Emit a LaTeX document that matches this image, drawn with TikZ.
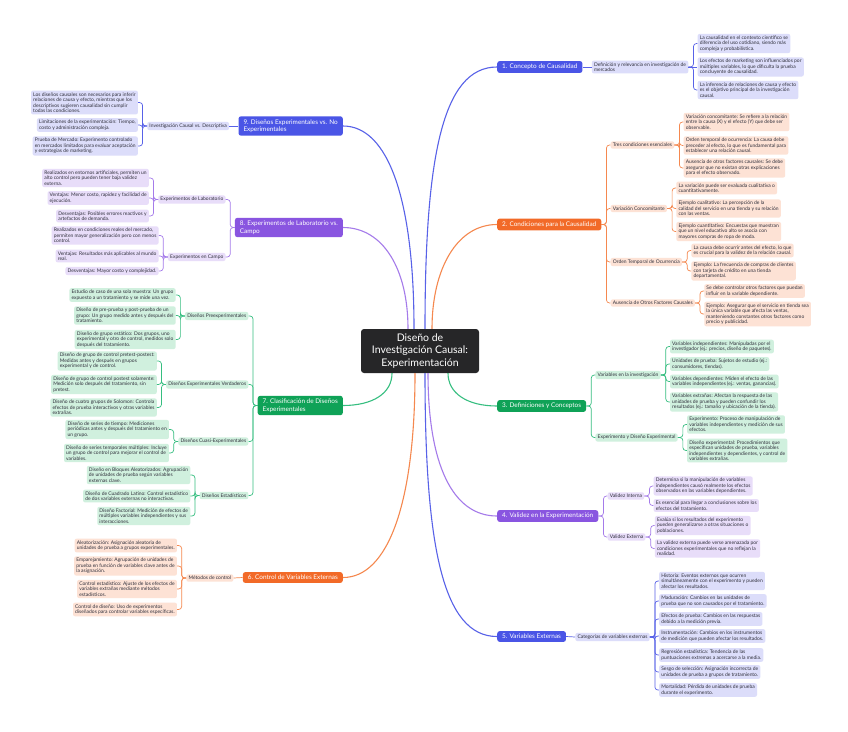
\documentclass[tikz,border=0pt]{standalone}
\usepackage{fontspec}
\setmainfont{Lato}
\definecolor{cblue}{HTML}{4A55E6}
\definecolor{lblue}{HTML}{DCDDFA}
\definecolor{lnblue}{HTML}{5862E8}
\definecolor{corange}{HTML}{F26A28}
\definecolor{lorange}{HTML}{FDE2D5}
\definecolor{lnorange}{HTML}{F5884F}
\definecolor{cgreen}{HTML}{0FA257}
\definecolor{lgreen}{HTML}{D0F0DE}
\definecolor{lngreen}{HTML}{36BE80}
\definecolor{cpurple}{HTML}{8955E0}
\definecolor{lpurple}{HTML}{E8DDF9}
\definecolor{lnpurple}{HTML}{A57BEA}
\definecolor{ccenter}{HTML}{262628}
\definecolor{txt}{HTML}{2E2E3A}
\newcommand{\rconn}[3]{\draw[#1] (#2.east) -- ++(5pt,0) |- (#3.west);}
\newcommand{\lconn}[3]{\draw[#1] (#2.west) -- ++(-4.5pt,0) |- (#3.east);}
\begin{document}
\begin{tikzpicture}[x=1pt,y=-1pt,
  leaf/.style={rounded corners=2pt, inner xsep=2.2pt, inner ysep=1.8pt, align=left, font=\fontsize{4.95}{5.5}\selectfont, text=txt},
  brn/.style={rounded corners=2.5pt, inner xsep=5pt, inner ysep=3pt, align=left, font=\fontsize{6.4}{7.6}\selectfont, text=white},
  B/.style={leaf, fill=lblue}, O/.style={leaf, fill=lorange}, G/.style={leaf, fill=lgreen}, P/.style={leaf, fill=lpurple},
  lnB/.style={draw=lnblue, line width=0.7pt, rounded corners=3pt},
  lnO/.style={draw=lnorange, line width=0.7pt, rounded corners=3pt},
  lnG/.style={draw=lngreen, line width=0.7pt, rounded corners=3pt},
  lnP/.style={draw=lnpurple, line width=0.7pt, rounded corners=3pt},
  mB/.style={draw=lnblue, line width=1.1pt},
  mO/.style={draw=lnorange, line width=1.1pt},
  mG/.style={draw=lngreen, line width=1.1pt},
  mP/.style={draw=lnpurple, line width=1.1pt},
  R/.style={anchor=west, xshift=9pt},
  L/.style={anchor=east, xshift=-9pt}]
\fill[white] (0,0) rectangle (848,731);
\useasboundingbox (0,0) rectangle (848,731);

% center
\node[fill=ccenter, text=white, rounded corners=3pt, font=\fontsize{10.5}{12.2}\selectfont, align=center, minimum width=118pt, minimum height=44pt] (c) at (420,351) {Diseño de\\Investigación Causal:\\Experimentación};

% ---------- Branch 1
\node[brn, fill=cblue, anchor=west] (b1) at (497,67) {1. Concepto de Causalidad};
\node[B, R] (b1s) at (b1.east |- 0,67) {Definición y relevancia en investigación de\\mercados};
\node[B, R] (b1a) at (b1s.east |- 0,43.5) {La causalidad en el contexto científico se\\diferencia del uso cotidiano, siendo más\\compleja y probabilística.};
\node[B, R] (b1b) at (b1s.east |- 0,67) {Los efectos de marketing son influenciados por\\múltiples variables, lo que dificulta la prueba\\concluyente de causalidad.};
\node[B, R] (b1c) at (b1s.east |- 0,90) {La inferencia de relaciones de causa y efecto\\es el objetivo principal de la investigación\\causal.};
\draw[lnB] (b1.east) -- (b1s.west);
\rconn{lnB}{b1s}{b1a}\draw[lnB] (b1s.east) -- (b1b.west);\rconn{lnB}{b1s}{b1c}

% ---------- Branch 2
\node[brn, fill=corange, anchor=west] (b2) at (497,224.5) {2. Condiciones para la Causalidad};
\node[O, R] (b2a) at (b2.east |- 0,145) {Tres condiciones esenciales};
\node[O, R] (b2b) at (b2.east |- 0,208.5) {Variación Concomitante};
\node[O, R] (b2c) at (b2.east |- 0,262) {Orden Temporal de Ocurrencia};
\node[O, R] (b2d) at (b2.east |- 0,303) {Ausencia de Otros Factores Causales};
\foreach \k in {b2a,b2b,b2c,b2d}{\rconn{lnO}{b2}{\k}}
\node[O, R] (b2a1) at (b2a.east |- 0,122) {Variación concomitante: Se refiere a la relación\\entre la causa (X) y el efecto (Y) que debe ser\\observable.};
\node[O, R] (b2a2) at (b2a.east |- 0,145.5) {Orden temporal de ocurrencia: La causa debe\\preceder al efecto, lo que es fundamental para\\establecer una relación causal.};
\node[O, R] (b2a3) at (b2a.east |- 0,168) {Ausencia de otros factores causales: Se debe\\asegurar que no existan otras explicaciones\\para el efecto observado.};
\foreach \k in {b2a1,b2a2,b2a3}{\rconn{lnO}{b2a}{\k}}
\node[O, R] (b2b1) at (b2b.east |- 0,188) {La variación puede ser evaluada cualitativa o\\cuantitativamente.};
\node[O, R] (b2b2) at (b2b.east |- 0,208.5) {Ejemplo cualitativo: La percepción de la\\calidad del servicio en una tienda y su relación\\con las ventas.};
\node[O, R] (b2b3) at (b2b.east |- 0,231.5) {Ejemplo cuantitativo: Encuestas que muestran\\que un nivel educativo alto se asocia con\\mayores compras de ropa de moda.};
\foreach \k in {b2b1,b2b2,b2b3}{\rconn{lnO}{b2b}{\k}}
\node[O, R] (b2c1) at (b2c.east |- 0,250.5) {La causa debe ocurrir antes del efecto, lo que\\es crucial para la validez de la relación causal.};
\node[O, R] (b2c2) at (b2c.east |- 0,271) {Ejemplo: La frecuencia de compras de clientes\\con tarjeta de crédito en una tienda\\departamental.};
\foreach \k in {b2c1,b2c2}{\rconn{lnO}{b2c}{\k}}
\node[O, R] (b2d1) at (b2d.east |- 0,291) {Se debe controlar otros factores que puedan\\influir en la variable dependiente.};
\node[O, R] (b2d2) at (b2d.east |- 0,314) {Ejemplo: Asegurar que el servicio en tienda sea\\la única variable que afecta las ventas,\\manteniendo constantes otros factores como\\precio y publicidad.};
\foreach \k in {b2d1,b2d2}{\rconn{lnO}{b2d}{\k}}

% ---------- Branch 3
\node[brn, fill=cgreen, anchor=west] (b3) at (497,406) {3. Definiciones y Conceptos};
\node[G, R] (b3a) at (b3.east |- 0,375) {Variables en la investigación};
\node[G, R] (b3b) at (b3.east |- 0,437.5) {Experimento y Diseño Experimental};
\foreach \k in {b3a,b3b}{\rconn{lnG}{b3}{\k}}
\node[G, R] (b3a1) at (b3a.east |- 0,346.5) {Variables independientes: Manipuladas por el\\investigador (ej.: precios, diseño de paquetes).};
\node[G, R] (b3a2) at (b3a.east |- 0,364) {Unidades de prueba: Sujetos de estudio (ej.:\\consumidores, tiendas).};
\node[G, R] (b3a3) at (b3a.east |- 0,381.5) {Variables dependientes: Miden el efecto de las\\variables independientes (ej.: ventas, ganancias).};
\node[G, R] (b3a4) at (b3a.east |- 0,402) {Variables extrañas: Afectan la respuesta de las\\unidades de prueba y pueden confundir los\\resultados (ej.: tamaño y ubicación de la tienda).};
\foreach \k in {b3a1,b3a2,b3a3,b3a4}{\rconn{lnG}{b3a}{\k}}
\node[G, R] (b3b1) at (b3b.east |- 0,424.5) {Experimento: Proceso de manipulación de\\variables independientes y medición de sus\\efectos.};
\node[G, R] (b3b2) at (b3b.east |- 0,450.5) {Diseño experimental: Procedimientos que\\especifican unidades de prueba, variables\\independientes y dependientes, y control de\\variables extrañas.};
\foreach \k in {b3b1,b3b2}{\rconn{lnG}{b3b}{\k}}

% ---------- Branch 4
\node[brn, fill=cpurple, anchor=west] (b4) at (497,516) {4. Validez en la Experimentación};
\node[P, R] (b4a) at (b4.east |- 0,496) {Validez Interna};
\node[P, R] (b4b) at (b4.east |- 0,537) {Validez Externa};
\foreach \k in {b4a,b4b}{\rconn{lnP}{b4}{\k}}
\node[P, R] (b4a1) at (b4a.east |- 0,486) {Determina si la manipulación de variables\\independientes causó realmente los efectos\\observados en las variables dependientes.};
\node[P, R] (b4a2) at (b4a.east |- 0,505.5) {Es esencial para llegar a conclusiones sobre los\\efectos del tratamiento.};
\foreach \k in {b4a1,b4a2}{\rconn{lnP}{b4a}{\k}}
\node[P, R] (b4b1) at (b4b.east |- 0,525.5) {Evalúa si los resultados del experimento\\pueden generalizarse a otras situaciones o\\poblaciones.};
\node[P, R] (b4b2) at (b4b.east |- 0,548.5) {La validez externa puede verse amenazada por\\condiciones experimentales que no reflejan la\\realidad.};
\foreach \k in {b4b1,b4b2}{\rconn{lnP}{b4b}{\k}}

% ---------- Branch 5
\node[brn, fill=cblue, anchor=west] (b5) at (497,636.5) {5. Variables Externas};
\node[B, R] (b5s) at (b5.east |- 0,637) {Categorías de variables externas};
\draw[lnB] (b5.east) -- (b5s.west);
\node[B, R] (b51) at (b5s.east |- 0,581) {Historia: Eventos externos que ocurren\\simultáneamente con el experimento y pueden\\afectar los resultados.};
\node[B, R] (b52) at (b5s.east |- 0,601) {Maduración: Cambios en las unidades de\\prueba que no son causados por el tratamiento.};
\node[B, R] (b53) at (b5s.east |- 0,619) {Efectos de prueba: Cambios en las respuestas\\debido a la medición previa.};
\node[B, R] (b54) at (b5s.east |- 0,636) {Instrumentación: Cambios en los instrumentos\\de medición que pueden afectar los resultados.};
\node[B, R] (b55) at (b5s.east |- 0,655) {Regresión estadística: Tendencia de las\\puntuaciones extremas a acercarse a la media.};
\node[B, R] (b56) at (b5s.east |- 0,672) {Sesgo de selección: Asignación incorrecta de\\unidades de prueba a grupos de tratamiento.};
\node[B, R] (b57) at (b5s.east |- 0,690) {Mortalidad: Pérdida de unidades de prueba\\durante el experimento.};
\foreach \k in {b51,b52,b53,b54,b55,b56,b57}{\rconn{lnB}{b5s}{\k}}

% ---------- Branch 9
\node[brn, fill=cblue, anchor=east] (b9) at (343,126) {9. Diseños Experimentales vs. No\\Experimentales};
\node[B, L] (b9s) at (b9.west |- 0,126) {Investigación Causal vs. Descriptiva};
\draw[lnB] (b9.west) -- (b9s.east);
\node[B, L] (b91) at (b9s.west |- 0,102.5) {Los diseños causales son necesarios para inferir\\relaciones de causa y efecto, mientras que los\\descriptivos sugieren causalidad sin cumplir\\todas las condiciones.};
\node[B, L] (b92) at (b9s.west |- 0,125) {Limitaciones de la experimentación: Tiempo,\\costo y administración compleja.};
\node[B, L] (b93) at (b9s.west |- 0,146) {Prueba de Mercado: Experimento controlado\\en mercados limitados para evaluar aceptación\\y estrategias de marketing.};
\foreach \k in {b91,b92,b93}{\lconn{lnB}{b9s}{\k}}

% ---------- Branch 8
\node[brn, fill=cpurple, anchor=east] (b8) at (343,227.5) {8. Experimentos de Laboratorio vs.\\Campo};
\node[P, L] (b8a) at (b8.west |- 0,199.5) {Experimentos de Laboratorio};
\node[P, L] (b8b) at (b8.west |- 0,257) {Experimentos en Campo};
\foreach \k in {b8a,b8b}{\lconn{lnP}{b8}{\k}}
\node[P, L] (b8a1) at (b8a.west |- 0,178) {Realizados en entornos artificiales, permiten un\\alto control pero pueden tener baja validez\\externa.};
\node[P, L] (b8a2) at (b8a.west |- 0,198) {Ventajas: Menor costo, rapidez y facilidad de\\ejecución.};
\node[P, L] (b8a3) at (b8a.west |- 0,216) {Desventajas: Posibles errores reactivos y\\artefactos de demanda.};
\foreach \k in {b8a1,b8a2,b8a3}{\lconn{lnP}{b8a}{\k}}
\node[P, L] (b8b1) at (b8b.west |- 0,235.5) {Realizados en condiciones reales del mercado,\\permiten mayor generalización pero con menos\\control.};
\node[P, L] (b8b2) at (b8b.west |- 0,256) {Ventajas: Resultados más aplicables al mundo\\real.};
\node[P, L] (b8b3) at (b8b.west |- 0,271) {Desventajas: Mayor costo y complejidad.};
\foreach \k in {b8b1,b8b2,b8b3}{\lconn{lnP}{b8b}{\k}}

% ---------- Branch 7
\node[brn, fill=cgreen, anchor=east] (b7) at (343,405.5) {7. Clasificación de Diseños\\Experimentales};
\node[G, L] (b7a) at (b7.west |- 0,316) {Diseños Preexperimentales};
\node[G, L] (b7b) at (b7.west |- 0,384.5) {Diseños Experimentales Verdaderos};
\node[G, L] (b7c) at (b7.west |- 0,441.5) {Diseños Cuasi-Experimentales};
\node[G, L] (b7d) at (b7.west |- 0,495.5) {Diseños Estadísticos};
\foreach \k in {b7a,b7b,b7c,b7d}{\lconn{lnG}{b7}{\k}}
\node[G, L] (b7a1) at (b7a.west |- 0,295) {Estudio de caso de una sola muestra: Un grupo\\expuesto a un tratamiento y se mide una vez.};
\node[G, L] (b7a2) at (b7a.west |- 0,315.5) {Diseño de pre-prueba y post-prueba de un\\grupo: Un grupo medido antes y después del\\tratamiento.};
\node[G, L] (b7a3) at (b7a.west |- 0,339.5) {Diseño de grupo estático: Dos grupos, uno\\experimental y otro de control, medidos solo\\después del tratamiento.};
\foreach \k in {b7a1,b7a2,b7a3}{\lconn{lnG}{b7a}{\k}}
\node[G, L] (b7b1) at (b7b.west |- 0,361) {Diseño de grupo de control pretest-postest:\\Medidas antes y después en grupos\\experimental y de control.};
\node[G, L] (b7b2) at (b7b.west |- 0,384.5) {Diseño de grupo de control postest solamente:\\Medición solo después del tratamiento, sin\\pretest.};
\node[G, L] (b7b3) at (b7b.west |- 0,407.5) {Diseño de cuatro grupos de Solomon: Controla\\efectos de prueba interactivos y otras variables\\extrañas.};
\foreach \k in {b7b1,b7b2,b7b3}{\lconn{lnG}{b7b}{\k}}
\node[G, L] (b7c1) at (b7c.west |- 0,429.5) {Diseño de series de tiempo: Mediciones\\periódicas antes y después del tratamiento en\\un grupo.};
\node[G, L] (b7c2) at (b7c.west |- 0,453) {Diseño de series temporales múltiples: Incluye\\un grupo de control para mejorar el control de\\variables.};
\foreach \k in {b7c1,b7c2}{\lconn{lnG}{b7c}{\k}}
\node[G, L] (b7d1) at (b7d.west |- 0,475) {Diseño en Bloques Aleatorizados: Agrupación\\de unidades de prueba según variables\\externas clave.};
\node[G, L] (b7d2) at (b7d.west |- 0,496) {Diseño de Cuadrado Latino: Control estadístico\\de dos variables externas no interactivas.};
\node[G, L] (b7d3) at (b7d.west |- 0,516) {Diseño Factorial: Medición de efectos de\\múltiples variables independientes y sus\\interacciones.};
\foreach \k in {b7d1,b7d2,b7d3}{\lconn{lnG}{b7d}{\k}}

% ---------- Branch 6
\node[brn, fill=corange, anchor=east] (b6) at (343,577.5) {6. Control de Variables Externas};
\node[O, L] (b6s) at (b6.west |- 0,578) {Métodos de control};
\draw[lnO] (b6.west) -- (b6s.east);
\node[O, L] (b61) at (b6s.west |- 0,545.5) {Aleatorización: Asignación aleatoria de\\unidades de prueba a grupos experimentales.};
\node[O, L] (b62) at (b6s.west |- 0,566) {Emparejamiento: Agrupación de unidades de\\prueba en función de variables clave antes de\\la asignación.};
\node[O, L] (b63) at (b6s.west |- 0,589) {Control estadístico: Ajuste de los efectos de\\variables extrañas mediante métodos\\estadísticos.};
\node[O, L] (b64) at (b6s.west |- 0,609.5) {Control de diseño: Uso de experimentos\\diseñados para controlar variables específicas.};
\foreach \k in {b61,b62,b63,b64}{\lconn{lnO}{b6s}{\k}}

% ---------- main curves
\draw[mB] ([xshift=5pt]c.north) .. controls +(0,-170) and +(-55,0) .. (b1.west);
\draw[mO] ([xshift=12pt]c.north) .. controls +(0,-60) and +(-40,0) .. (b2.west);
\draw[mB] ([xshift=-6pt]c.north) .. controls +(0,-130) and +(45,0) .. (b9.east);
\draw[mP] ([xshift=-12pt]c.north) .. controls +(0,-60) and +(40,0) .. (b8.east);
\draw[mG] ([xshift=28pt]c.south) .. controls +(0,20) and +(-30,0) .. (b3.west);
\draw[mG] ([xshift=-28pt]c.south) .. controls +(0,20) and +(30,0) .. (b7.east);
\draw[mP] ([xshift=8pt]c.south) .. controls +(0,90) and +(-45,0) .. (b4.west);
\draw[mB] ([xshift=5pt]c.south) .. controls +(0,170) and +(-55,0) .. (b5.west);
\draw[mO] ([xshift=-5pt]c.south) .. controls +(0,130) and +(45,0) .. (b6.east);
\end{tikzpicture}
\end{document}
